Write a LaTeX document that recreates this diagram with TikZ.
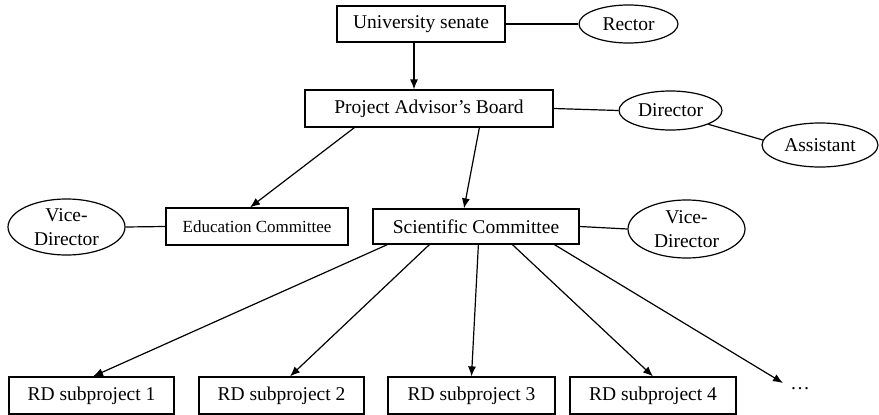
\documentclass[tikz,border=0pt]{standalone}
\usepackage{fontspec}
\setmainfont{Liberation Serif}
\usetikzlibrary{shapes.geometric,arrows.meta,calc}
\begin{document}
\begin{tikzpicture}[x=1pt,y=-1pt,
  every node/.style={inner sep=0pt,font=\fontsize{19.5}{24}\selectfont},
  box/.style={draw,line width=1.2pt,rectangle},
  oval/.style={draw,line width=1.2pt,ellipse,align=center},
  link/.style={line width=1.2pt},
  arr/.style={line width=1.2pt,-{Latex[length=10pt,width=8pt]}}]
\useasboundingbox (0,0) rectangle (879,415);
% nodes
\node[box,minimum width=168pt,minimum height=36pt] (us) at (421,24) {University senate};
\node[oval,minimum width=99pt,minimum height=38pt] (rector) at (628.5,24) {Rector};
\node[box,minimum width=248pt,minimum height=37pt] (pab) at (429,108.5) {Project Advisor’s Board};
\node[oval,minimum width=103pt,minimum height=39pt] (director) at (670.5,110.5) {Director};
\node[oval,minimum width=116pt,minimum height=44pt] (assistant) at (820,145) {Assistant};
\node[box,minimum width=182pt,minimum height=37pt,font=\fontsize{17}{20}\selectfont] (edu) at (257,226.5) {Education Committee};
\node[box,minimum width=206pt,minimum height=35pt] (sci) at (476,226.5) {Scientific Committee};
\node[oval,minimum width=117pt,minimum height=56pt] (vd1) at (66.5,227) {Vice-\\Director};
\node[oval,minimum width=117pt,minimum height=58pt] (vd2) at (686.5,229) {Vice-\\Director};
\node[box,minimum width=165pt,minimum height=37pt] (rd1) at (91.5,395.5) {RD subproject 1};
\node[box,minimum width=165pt,minimum height=37pt] (rd2) at (281.5,395.5) {RD subproject 2};
\node[box,minimum width=167pt,minimum height=37pt] (rd3) at (471.5,395.5) {RD subproject 3};
\node[box,minimum width=166pt,minimum height=37pt] (rd4) at (653,395.5) {RD subproject 4};
\node (dots) at (800,389) {…};
\coordinate (dtip) at (783,383);
% plain links
\draw[link] (us.east) -- (rector.west);
\draw[link] (pab.east) -- (director.west);
\draw[link] (director.-20) -- (assistant.175);
\draw[link] (edu.west) -- (vd1.east);
\draw[link] (sci.east) -- (vd2.west);
% arrows
\draw[arr] ([xshift=-7pt]us.south) -- ([xshift=-15pt]pab.north);
\draw[arr] ([xshift=50pt]pab.south west) -- ([xshift=-7pt]edu.north);
\draw[arr] ([xshift=175pt]pab.south west) -- ([xshift=-12pt]sci.north);
\draw[arr] ([xshift=15pt]sci.south west) -- ([xshift=1.5pt]rd1.north);
\draw[arr] ([xshift=57pt]sci.south west) -- ([xshift=8.5pt]rd2.north);
\draw[arr] ([xshift=106pt]sci.south west) -- (rd3.north);
\draw[arr] ([xshift=140pt]sci.south west) -- (rd4.north);
\draw[arr] ([xshift=182pt]sci.south west) -- (dtip);
\end{tikzpicture}
\end{document}
